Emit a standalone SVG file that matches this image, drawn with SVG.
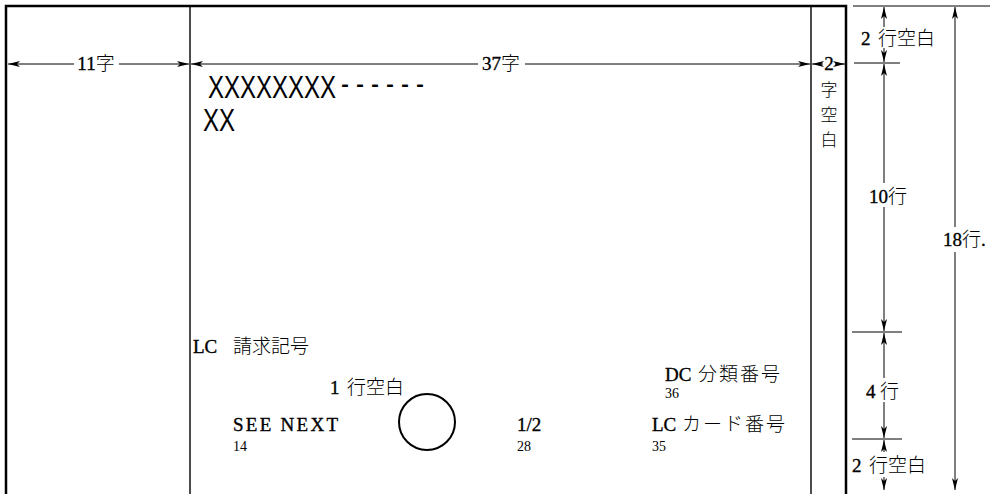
<svg xmlns="http://www.w3.org/2000/svg" width="990" height="494" viewBox="0 0 990 494">
<defs>
<marker id="ah" viewBox="0 0 12 6" refX="12" refY="3" markerWidth="12" markerHeight="6" markerUnits="userSpaceOnUse" orient="auto-start-reverse">
<path d="M0,0 L12,3 L0,6 L3,3 Z" fill="#000"/>
</marker>
</defs>
<style>
.frame{fill:none;stroke:#000;stroke-width:2.5}
.thin{fill:none;stroke:#000;stroke-width:1.4}
.dim{fill:none;stroke:#000;stroke-width:1}
.da{fill:none;stroke:#000;stroke-width:1;marker-start:url(#ah)}
.db{fill:none;stroke:#000;stroke-width:1;marker-end:url(#ah)}
text{font-family:"Liberation Serif","Noto Sans CJK JP",serif;fill:#000}
.lb{font-size:19px;stroke:#000;stroke-width:0.35}
.j{stroke:none;font-weight:300}
.sm{font-size:14px}
.x{font-family:"Liberation Sans","DejaVu Sans",sans-serif;font-size:24px}
</style>
<rect width="990" height="494" fill="#fff"/>
<g id="card">
<path class="frame" d="M6,494 L6,6 L846,6 L846,494"/>
<line class="thin" x1="190" y1="6" x2="190" y2="494"/>
<line class="thin" x1="811" y1="6" x2="811" y2="494"/>
</g>
<g id="connectors">
<line class="da" x1="8" y1="64" x2="74" y2="64"/>
<line class="db" x1="119" y1="64" x2="189" y2="64"/>
<line class="da" x1="191" y1="64" x2="478" y2="64"/>
<line class="db" x1="525" y1="64" x2="810" y2="64"/>
<line class="da" x1="812" y1="64" x2="823" y2="64"/>
<line class="db" x1="835" y1="64" x2="845" y2="64"/>
<line class="dim" x1="853" y1="6" x2="990" y2="6"/>
<line class="dim" x1="854" y1="63" x2="900" y2="63"/>
<line class="dim" x1="852" y1="332" x2="902" y2="332"/>
<line class="dim" x1="852" y1="439" x2="902" y2="439"/>
<line class="da" x1="884" y1="7" x2="884" y2="27"/>
<line class="db" x1="884" y1="48" x2="884" y2="62"/>
<line class="da" x1="884" y1="64" x2="884" y2="183"/>
<line class="db" x1="884" y1="207" x2="884" y2="331"/>
<line class="da" x1="884" y1="333" x2="884" y2="378"/>
<line class="db" x1="884" y1="402" x2="884" y2="438"/>
<line class="da" x1="884" y1="440" x2="884" y2="452"/>
<line class="db" x1="884" y1="477" x2="884" y2="490"/>
<line class="da" x1="955" y1="7" x2="955" y2="227"/>
<line class="db" x1="955" y1="252" x2="955" y2="490"/>
</g>
<g id="labels-dim">
<text class="lb" x="96" y="70" text-anchor="middle">11<tspan class="j">字</tspan></text>
<text class="lb" x="501" y="70" text-anchor="middle">37<tspan class="j">字</tspan></text>
<text class="lb" x="829" y="70" text-anchor="middle">2</text>
<text class="j" x="829" y="96" text-anchor="middle" font-size="17">字</text>
<text class="j" x="829" y="121" text-anchor="middle" font-size="17">空</text>
<text class="j" x="829" y="146" text-anchor="middle" font-size="17">白</text>
<text class="lb" x="861" y="45">2<tspan class="j" x="878">行空白</tspan></text>
<text class="lb" x="869" y="203">10<tspan class="j">行</tspan></text>
<text class="lb" x="943" y="246">18<tspan class="j">行</tspan>.</text>
<text class="lb" x="866" y="398">4<tspan class="j" x="880">行</tspan></text>
<text class="lb" x="852" y="472">2<tspan class="j" x="869">行空白</tspan></text>
</g>
<g id="content">
<g transform="scale(1,1.333)">
<text class="x" x="208" y="73.5">XXXXXXXX<tspan dx="5" dy="-3" letter-spacing="7">------</tspan></text>
<text class="x" x="203" y="98">XX</text>
</g>
<text class="lb" x="193" y="353">LC<tspan class="j" x="233">請求記号</tspan></text>
<text class="lb" x="330" y="394">1<tspan class="j" x="347">行空白</tspan></text>
<text class="lb" x="233" y="431" font-size="20" textLength="105" lengthAdjust="spacing">SEE NEXT</text>
<text class="sm" x="233" y="451">14</text>
<circle cx="427" cy="422" r="28" fill="none" stroke="#000" stroke-width="2"/>
<text class="lb" x="517" y="431" font-size="20">1/2</text>
<text class="sm" x="517" y="451">28</text>
<text class="lb" x="652" y="431" font-size="20">LC<tspan class="j" x="682" font-size="19" letter-spacing="2">カード番号</tspan></text>
<text class="sm" x="652" y="451">35</text>
<text class="lb" x="665" y="381" font-size="20">DC<tspan class="j" x="698" letter-spacing="2">分類番号</tspan></text>
<text class="sm" x="665" y="398">36</text>
</g>
</svg>
